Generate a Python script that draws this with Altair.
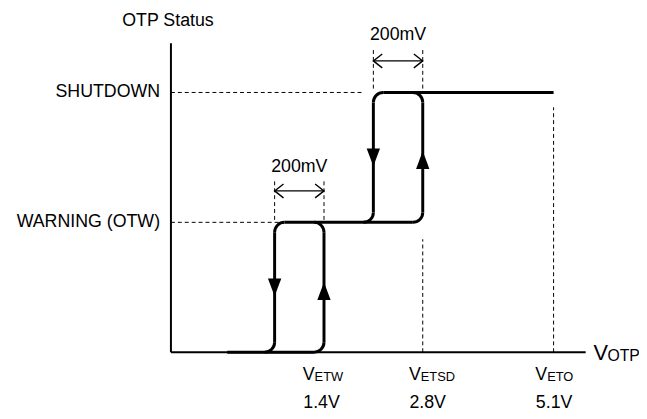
import math
import altair as alt
import pandas as pd

# Schematic coordinates: x = position along V_OTP (schematic mV units),
# y = OTP status level (0 = normal, 1 = warning, 2 = shutdown)
X_MAX = 1680
Y_MAX = 2.38

# Status levels shown on the vertical axis
level_names = ["SHUTDOWN", "WARNING (OTW)"]
level_values = [2, 1]
level_guide_end = [776, 440]

# Hysteresis loops (left = falling threshold, right = rising threshold)
loop_left = [420, 820]
loop_right = [620, 1020]
loop_low = [0, 1]
loop_high = [1, 2]

# Horizontal solid pieces of the status curve
hseg_y = [0, 1, 2]
hseg_x1 = [228, 460, 860]
hseg_x2 = [580, 980, 1550]

# Rounded corners of the curve
corner_x = [420, 620, 420, 620, 820, 1020, 820, 1020]
corner_y = [0, 0, 1, 1, 1, 1, 2, 2]
corner_kind = ["br", "br", "tl", "tr", "br", "br", "tl", "tr"]

# Direction arrows on the vertical pieces
arrow_x = [420, 620, 820, 1020]
arrow_y = [0.50, 0.47, 1.50, 1.48]
arrow_dir = ["down", "up", "down", "up"]

# 200mV hysteresis dimension marks
dim_x1 = [420, 820]
dim_x2 = [620, 1020]
dim_y = [1.242, 2.243]
dim_ext_lo = [1.019, 2.03]
dim_ext_hi = [1.323, 2.327]
dim_text = ["200mV", "200mV"]
dim_text_y = [1.384, 2.403]

# Threshold guide lines
thr_x = [1020, 1550]
thr_top = [0.87, 1.886]

# Threshold labels on the horizontal axis
tick_main = ["V", "V", "V"]
tick_sub = ["ETW", "ETSD", "ETO"]
tick_value = ["1.4V", "2.8V", "5.1V"]
tick_label_x = [610, 1040, 1552]

RX = 40          # corner radius in x units (10 px)
RY = 10 / 131.5  # corner radius in y units (10 px)
FONT = "Liberation Sans"
FS = 18

xs = alt.Scale(domain=[0, X_MAX], nice=False, zero=False)
ys = alt.Scale(domain=[0, Y_MAX], nice=False, zero=False)


def X(f):
    return alt.X(f, type="quantitative", scale=xs, axis=None)


def Y(f):
    return alt.Y(f, type="quantitative", scale=ys, axis=None)


# ---- tables ----
axes_df = pd.DataFrame({"x": [0, 0], "x2": [0, X_MAX], "y": [0, 0], "y2": [Y_MAX, 0]})

hseg_df = pd.DataFrame({"x": hseg_x1, "x2": hseg_x2, "y": hseg_y})

vseg_rows = []
for l, r, lo, hi in zip(loop_left, loop_right, loop_low, loop_high):
    for xv in (l, r):
        vseg_rows.append({"x": xv, "y": lo + RY, "y2": hi - RY})
vseg_df = pd.DataFrame(vseg_rows)

kind_geom = {
    "br": (-RX, RY, math.pi / 2, math.pi),
    "tl": (RX, -RY, 3 * math.pi / 2, 2 * math.pi),
    "tr": (-RX, -RY, 0.0, math.pi / 2),
}
corner_df = pd.DataFrame([
    {"cx": cx + kind_geom[k][0], "cy": cy + kind_geom[k][1],
     "t1": kind_geom[k][2], "t2": kind_geom[k][3]}
    for cx, cy, k in zip(corner_x, corner_y, corner_kind)
])

arrow_df = pd.DataFrame({"x": arrow_x, "y": arrow_y, "dir": arrow_dir})

level_df = pd.DataFrame({"name": level_names, "y": level_values,
                         "x0": [0] * len(level_names), "x2": level_guide_end})

dim_df = pd.DataFrame({"x1": dim_x1, "x2": dim_x2, "y": dim_y,
                       "text": dim_text, "ty": dim_text_y})
dim_df["xc"] = (dim_df["x1"] + dim_df["x2"]) / 2
dim_ext_df = pd.DataFrame(
    [{"x": a, "lo": lo, "hi": hi} for a, lo, hi in zip(dim_x1, dim_ext_lo, dim_ext_hi)]
    + [{"x": b, "lo": lo, "hi": hi} for b, lo, hi in zip(dim_x2, dim_ext_lo, dim_ext_hi)]
)
chev_df = pd.DataFrame(
    [{"x": a, "y": y, "side": "left"} for a, y in zip(dim_x1, dim_y)]
    + [{"x": b, "y": y, "side": "right"} for b, y in zip(dim_x2, dim_y)]
)

thr_df = pd.DataFrame({"x": thr_x, "base": [0] * len(thr_x), "top": thr_top})

tick_df = pd.DataFrame({"main": tick_main, "sub": tick_sub, "value": tick_value,
                        "x": tick_label_x, "base": [0] * len(tick_main)})

title_df = pd.DataFrame({"t": ["OTP Status"], "x": [0], "y": [Y_MAX]})
xt_df = pd.DataFrame({"v": ["V"], "s": ["OTP"], "x": [X_MAX], "y": [0]})

# ---- layers ----
axis_lines = alt.Chart(axes_df).mark_rule(color="black", strokeWidth=2).encode(
    x=X("x"), x2=alt.X2("x2"), y=Y("y"), y2=alt.Y2("y2"))

curve_h = alt.Chart(hseg_df).mark_rule(color="black", strokeWidth=3, strokeCap="butt").encode(
    x=X("x"), x2=alt.X2("x2"), y=Y("y"))
curve_v = alt.Chart(vseg_df).mark_rule(color="black", strokeWidth=3, strokeCap="butt").encode(
    x=X("x"), y=Y("y"), y2=alt.Y2("y2"))
corners = alt.Chart(corner_df).mark_arc(radius=11.5, radius2=8.5, color="black").encode(
    x=X("cx"), y=Y("cy"),
    theta=alt.Theta("t1", type="quantitative", scale=None, stack=False),
    theta2=alt.Theta2("t2"))

down_path = "M -0.75 -1 L 0.75 -1 L 0 1 Z"
up_path = "M -0.75 1 L 0.75 1 L 0 -1 Z"
arrows_down = alt.Chart(arrow_df).transform_filter(alt.datum.dir == "down").mark_point(
    filled=True, color="black", size=324, opacity=1, strokeWidth=0, shape=down_path).encode(
    x=X("x"), y=Y("y"))
arrows_up = alt.Chart(arrow_df).transform_filter(alt.datum.dir == "up").mark_point(
    filled=True, color="black", size=324, opacity=1, strokeWidth=0, shape=up_path).encode(
    x=X("x"), y=Y("y"))

dash = [4, 3]
level_guides = alt.Chart(level_df).mark_rule(color="black", strokeWidth=1, strokeDash=dash).encode(
    x=X("x0"), x2=alt.X2("x2"), y=Y("y"))
level_text = alt.Chart(level_df).mark_text(align="right", baseline="middle", font=FONT,
                                           fontSize=FS, dx=-11, color="black").encode(
    x=X("x0"), y=Y("y"), text=alt.Text("name", type="nominal"))

thr_lines = alt.Chart(thr_df).mark_rule(color="black", strokeWidth=1, strokeDash=dash).encode(
    x=X("x"), y=Y("base"), y2=alt.Y2("top"))

dim_ext = alt.Chart(dim_ext_df).mark_rule(color="black", strokeWidth=1, strokeDash=dash).encode(
    x=X("x"), y=Y("lo"), y2=alt.Y2("hi"))
dim_line = alt.Chart(dim_df).mark_rule(color="black", strokeWidth=1.4).encode(
    x=X("x1"), x2=alt.X2("x2"), y=Y("y"))
left_chev = "M 1 -0.78 L 0 0 L 1 0.78"
right_chev = "M -1 -0.78 L 0 0 L -1 0.78"
chev_left = alt.Chart(chev_df).transform_filter(alt.datum.side == "left").mark_point(
    filled=False, color="black", size=324, opacity=1, strokeWidth=1.4, shape=left_chev).encode(
    x=X("x"), y=Y("y"))
chev_right = alt.Chart(chev_df).transform_filter(alt.datum.side == "right").mark_point(
    filled=False, color="black", size=324, opacity=1, strokeWidth=1.4, shape=right_chev).encode(
    x=X("x"), y=Y("y"))
dim_label = alt.Chart(dim_df).mark_text(
    align="center", baseline="alphabetic", font=FONT, fontSize=FS, color="black").encode(
    x=X("xc"), y=Y("ty"), text=alt.Text("text", type="nominal"))

tick_v = alt.Chart(tick_df).mark_text(align="right", baseline="alphabetic", font=FONT,
                                      fontSize=FS, dx=-7, dy=28, color="black").encode(
    x=X("x"), y=Y("base"), text=alt.Text("main", type="nominal"))
tick_s = alt.Chart(tick_df).mark_text(align="left", baseline="alphabetic", font=FONT,
                                      fontSize=13, dx=-7, dy=29, color="black").encode(
    x=X("x"), y=Y("base"), text=alt.Text("sub", type="nominal"))
tick_val = alt.Chart(tick_df).mark_text(align="center", baseline="alphabetic", font=FONT,
                                        fontSize=FS, dy=56, color="black").encode(
    x=X("x"), y=Y("base"), text=alt.Text("value", type="nominal"))

y_title = alt.Chart(title_df).mark_text(align="center", baseline="alphabetic", font=FONT,
                                        fontSize=FS, dx=-3, dy=-17, color="black").encode(
    x=X("x"), y=Y("y"), text=alt.Text("t", type="nominal"))

x_title_v = alt.Chart(xt_df).mark_text(align="left", baseline="alphabetic", font=FONT,
                                       fontSize=22, dx=8, dy=8, color="black").encode(
    x=X("x"), y=Y("y"), text=alt.Text("v", type="nominal"))
x_title_s = alt.Chart(xt_df).mark_text(align="left", baseline="alphabetic", font=FONT,
                                       fontSize=16, dx=22, dy=9, color="black").encode(
    x=X("x"), y=Y("y"), text=alt.Text("s", type="nominal"))

chart = alt.layer(
    level_guides, thr_lines, dim_ext, dim_line, chev_left, chev_right, dim_label,
    axis_lines, curve_h, curve_v, corners, arrows_down, arrows_up,
    level_text, tick_v, tick_s, tick_val, y_title, x_title_v, x_title_s,
).properties(
    width=420, height=313,
    autosize=alt.AutoSizeParams(type="none"),
    padding={"left": 165, "top": 33, "right": 54, "bottom": 60},
    background="white",
).configure_view(stroke=None)

chart.save("out.html", embed_options={"renderer": "svg", "actions": False})
